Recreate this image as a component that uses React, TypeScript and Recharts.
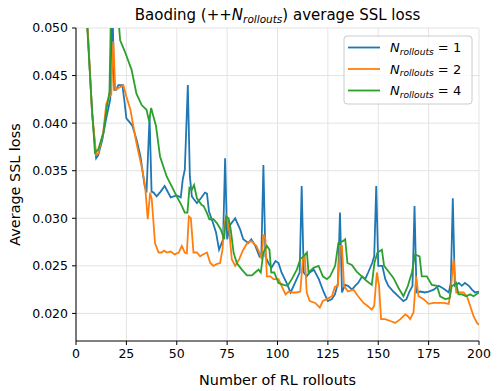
import React from "react";
import { LineChart, Line, XAxis, YAxis, CartesianGrid } from "recharts";

const TITLE = "Baoding (++";
const X_LABEL = "Number of RL rollouts";
const Y_LABEL = "Average SSL loss";
const SERIES_NAMES = ["1", "2", "4"];
const COLORS = ["#1f77b4", "#ff7f0e", "#2ca02c"];

const X_TICKS = [0, 25, 50, 75, 100, 125, 150, 175, 200];
const Y_TICKS = [0.02, 0.025, 0.03, 0.035, 0.04, 0.045, 0.05];

// N_rollouts = 1
const blueX = [4, 6, 8, 10, 11, 13, 15, 17, 18, 19, 20, 21, 23, 24, 25, 27, 28, 30, 32, 34, 35, 36.5, 37.5, 38.5, 40, 42, 44, 45, 47, 50, 52, 53, 54, 55.5, 56.5, 57.5, 58.5, 60, 62, 64, 65, 66, 68, 69.5, 71, 73, 74, 75, 76.5, 79, 81.5, 83, 85.5, 87, 89, 91, 92, 93, 94, 95.5, 97, 99, 100.5, 102, 104.5, 106.5, 108, 109.5, 111, 112, 113, 114.5, 116, 118, 120.5, 123, 125, 127, 128.5, 130, 131, 132, 133.5, 135, 137, 138.5, 140, 142, 143.5, 145, 147, 148, 149, 150, 152, 153.5, 155, 157.5, 160, 162.5, 164, 165.5, 167, 168, 169, 171, 173, 175, 177.5, 180, 182.5, 185, 186, 187, 188, 190, 191.5, 193, 195, 196.5, 198, 200];
const blueY = [0.056, 0.049, 0.041, 0.0363, 0.0366, 0.0382, 0.0405, 0.0425, 0.053, 0.0435, 0.0435, 0.044, 0.044, 0.0424, 0.0405, 0.04, 0.0397, 0.0383, 0.0365, 0.0335, 0.0327, 0.0407, 0.0328, 0.0327, 0.0323, 0.0328, 0.0334, 0.033, 0.0322, 0.0324, 0.0322, 0.0341, 0.0351, 0.044, 0.0344, 0.0323, 0.032, 0.0316, 0.0321, 0.0327, 0.0326, 0.0307, 0.0295, 0.0285, 0.0267, 0.0278, 0.0363, 0.0278, 0.0293, 0.03, 0.0288, 0.0278, 0.0274, 0.0278, 0.0271, 0.026, 0.0263, 0.0356, 0.026, 0.0253, 0.0248, 0.0255, 0.0253, 0.0243, 0.0232, 0.0222, 0.0229, 0.0236, 0.0243, 0.0334, 0.0243, 0.0239, 0.0243, 0.0246, 0.0236, 0.0222, 0.0213, 0.0215, 0.022, 0.0232, 0.0306, 0.0222, 0.023, 0.0229, 0.0225, 0.0229, 0.0232, 0.0239, 0.0236, 0.0243, 0.0253, 0.026, 0.0334, 0.025, 0.025, 0.0236, 0.0229, 0.0223, 0.0218, 0.0213, 0.0215, 0.0223, 0.0229, 0.0313, 0.0222, 0.0223, 0.0222, 0.0223, 0.0225, 0.0229, 0.0226, 0.0222, 0.0232, 0.0321, 0.0229, 0.0232, 0.0229, 0.0232, 0.0229, 0.0225, 0.0222, 0.0223];

// N_rollouts = 2
const orangeX = [4, 6, 8, 10, 11, 13.5, 15, 16.5, 17.5, 18.5, 19.5, 22, 23.5, 25, 27, 30, 32.5, 34.3, 35.6, 36.8, 37.6, 39.2, 41, 42.5, 43.7, 45, 47, 49, 51, 52.5, 54, 55, 56, 57, 58.3, 60, 61.6, 63, 65, 66.6, 68.2, 70, 71.5, 72.7, 73.5, 74.5, 75.7, 77.3, 79, 81, 83, 85, 87, 89.5, 91, 92.2, 93, 94, 94.7, 96.5, 98, 100.5, 102, 104, 105.5, 107.5, 109.5, 111.3, 112.6, 113.5, 114.5, 116, 118.7, 121, 122.5, 124.5, 127, 128.5, 130, 131, 132, 133, 135, 137.7, 140, 142.7, 144.6, 146.8, 148, 149.3, 150.4, 151.4, 153.4, 156, 158.4, 161, 163.4, 164.7, 165.8, 167.5, 168.8, 170, 172.5, 175, 177.5, 180, 182.5, 185, 186, 187.4, 188.7, 190.4, 192.3, 194, 195.6, 197.3, 199, 200];
const orangeY = [0.056, 0.049, 0.041, 0.0367, 0.0368, 0.039, 0.042, 0.0428, 0.043, 0.0486, 0.0435, 0.0438, 0.044, 0.0428, 0.0414, 0.0379, 0.0355, 0.0334, 0.0299, 0.0327, 0.032, 0.0274, 0.0264, 0.0264, 0.0266, 0.0264, 0.0265, 0.0262, 0.0264, 0.0271, 0.0264, 0.0263, 0.0302, 0.03, 0.0264, 0.0264, 0.026, 0.0262, 0.0264, 0.0253, 0.025, 0.0252, 0.0253, 0.0267, 0.0291, 0.0302, 0.0295, 0.0257, 0.025, 0.0257, 0.0267, 0.0274, 0.0276, 0.0271, 0.0264, 0.0257, 0.0283, 0.0278, 0.0239, 0.0239, 0.0236, 0.0236, 0.0229, 0.022, 0.0223, 0.0222, 0.0222, 0.0223, 0.0257, 0.0262, 0.0222, 0.0213, 0.0211, 0.0206, 0.0213, 0.0215, 0.0218, 0.0228, 0.0229, 0.0271, 0.0271, 0.0229, 0.0223, 0.0225, 0.0218, 0.0211, 0.0208, 0.0204, 0.0208, 0.0243, 0.0229, 0.0194, 0.0194, 0.0192, 0.019, 0.0194, 0.0199, 0.0197, 0.0194, 0.0201, 0.0239, 0.0218, 0.0215, 0.021, 0.0211, 0.0211, 0.0211, 0.021, 0.0225, 0.0257, 0.0222, 0.0222, 0.0222, 0.0218, 0.0208, 0.0197, 0.019, 0.0188];

// N_rollouts = 4
const greenX = [4, 5.6, 7.5, 9.4, 11, 13.6, 15.2, 16.6, 17.2, 18.5, 20, 21.9, 24.3, 27.6, 30, 32.6, 35, 36.3, 37.3, 39.7, 41.7, 45, 50, 52.5, 54, 55.3, 56.3, 57.5, 58.6, 60, 62.4, 63.3, 64.9, 66.2, 68.2, 69.9, 71.9, 73.5, 74.5, 75.7, 76.8, 78.2, 79.8, 82.3, 84.8, 87.3, 88.9, 90.6, 91.7, 93, 94.7, 96, 96.9, 98.4, 100.5, 103, 105, 107.1, 109.6, 111.3, 112.9, 114.6, 115.4, 117.9, 120.4, 122.5, 124.5, 126.1, 128.6, 130.2, 132.4, 133.6, 134.7, 136.9, 139.3, 141.8, 144.3, 146.8, 148.1, 149.6, 151.8, 152.9, 155.1, 157.6, 160, 162.5, 164.7, 166.7, 168.3, 170.5, 171.6, 174.1, 176.6, 179.1, 180.7, 183.2, 185.4, 186.5, 187.7, 188.7, 189.8, 191.5, 193.6, 195.6, 197.3, 200];
const greenY = [0.056, 0.05, 0.043, 0.0369, 0.0372, 0.039, 0.0415, 0.0433, 0.05, 0.055, 0.054, 0.0487, 0.0475, 0.0456, 0.0431, 0.0419, 0.0414, 0.0402, 0.0416, 0.0397, 0.0365, 0.0344, 0.0323, 0.0313, 0.0306, 0.0306, 0.0332, 0.033, 0.0335, 0.0321, 0.0314, 0.0313, 0.0306, 0.0299, 0.0299, 0.0295, 0.0288, 0.0278, 0.0302, 0.03, 0.0288, 0.0264, 0.0253, 0.0246, 0.024, 0.024, 0.0243, 0.0246, 0.0243, 0.0264, 0.0271, 0.0267, 0.0243, 0.0243, 0.0232, 0.023, 0.0229, 0.0236, 0.0246, 0.0257, 0.026, 0.0264, 0.0243, 0.0248, 0.025, 0.0239, 0.0236, 0.0239, 0.025, 0.0274, 0.0276, 0.0278, 0.0253, 0.0251, 0.0244, 0.0239, 0.0234, 0.023, 0.0253, 0.0264, 0.0267, 0.025, 0.0244, 0.0237, 0.0227, 0.0218, 0.0229, 0.0243, 0.0262, 0.026, 0.0239, 0.0239, 0.023, 0.0229, 0.0218, 0.0215, 0.0216, 0.0229, 0.023, 0.0232, 0.022, 0.022, 0.0218, 0.022, 0.0218, 0.0222];

const toPoints = (xs: number[], ys: number[]) => xs.map((x, i) => ({ x, y: ys[i] }));
const seriesData = [toPoints(blueX, blueY), toPoints(orangeX, orangeY), toPoints(greenX, greenY)];

const W = 498;
const H = 391;
const LEFT = 76;
const RIGHT = 479;
const TOP = 28;
const BOTTOM = 341;
const Y_DOMAIN = [0.0171, 0.05];

// italic N with a smaller lowered "rollouts", like matplotlib mathtext
const NRollouts = ({ size }: { size: number }) => (
  <>
    <tspan fontStyle="italic">N</tspan>
    <tspan fontStyle="italic" fontSize={size * 0.7} dy={size * 0.22}>rollouts</tspan>
  </>
);

export default function App() {
  const tickStyle = { fontSize: 12.5, fill: "#000" };
  const midY = (TOP + BOTTOM) / 2;
  return (
    <div style={{ position: "absolute", left: 0, top: 0, width: W, height: H, fontFamily: "DejaVu Sans", background: "#fff" }}>
      <LineChart width={W} height={H} margin={{ top: TOP, right: W - RIGHT, bottom: H - BOTTOM - 30, left: 0 }}>
        <CartesianGrid stroke="#e3e3e3" strokeWidth={1} verticalValues={X_TICKS} horizontalValues={Y_TICKS} />
        <XAxis
          dataKey="x"
          type="number"
          domain={[0, 200]}
          ticks={X_TICKS}
          height={30}
          tickSize={4}
          tickMargin={4}
          tick={tickStyle}
          stroke="#000"
          allowDataOverflow
        />
        <XAxis xAxisId="top" orientation="top" type="number" domain={[0, 200]} height={0} tick={false} tickLine={false} stroke="#000" />
        <YAxis
          type="number"
          domain={Y_DOMAIN}
          ticks={Y_TICKS}
          width={LEFT}
          tickSize={4}
          tickMargin={4}
          tick={tickStyle}
          tickFormatter={(v: number) => v.toFixed(3)}
          stroke="#000"
          allowDataOverflow
        />
        <YAxis yAxisId="right" orientation="right" type="number" domain={Y_DOMAIN} width={0} tick={false} tickLine={false} stroke="#000" />
        {seriesData.map((d, i) => (
          <Line
            key={SERIES_NAMES[i]}
            data={d}
            dataKey="y"
            type="linear"
            stroke={COLORS[i]}
            strokeWidth={1.8}
            dot={false}
            activeDot={false}
            isAnimationActive={false}
          />
        ))}
      </LineChart>
      <svg width={W} height={H} style={{ position: "absolute", left: 0, top: 0, pointerEvents: "none" }}>
        <text x={(LEFT + RIGHT) / 2} y={20} textAnchor="middle" fontSize={15} fill="#000">
          {TITLE}
          <NRollouts size={15} />
          <tspan dy={-15 * 0.22}>) average SSL loss</tspan>
        </text>
        <text x={(LEFT + RIGHT) / 2} y={385} textAnchor="middle" fontSize={14.4} fill="#000">
          {X_LABEL}
        </text>
        <text x={20} y={midY} textAnchor="middle" fontSize={14.4} fill="#000" transform={`rotate(-90 20 ${midY})`}>
          {Y_LABEL}
        </text>
        <rect x={344} y={36} width={128} height={68} rx={3} fill="#fff" fillOpacity={0.8} stroke="#cccccc" />
        {SERIES_NAMES.map((n, i) => (
          <g key={n}>
            <line x1={348} x2={380} y1={47.5 + i * 21.5} y2={47.5 + i * 21.5} stroke={COLORS[i]} strokeWidth={1.8} />
            <text x={390} y={52 + i * 21.5} fontSize={13} fill="#000">
              <NRollouts size={13} />
              <tspan dy={-13 * 0.22}>{" = " + n}</tspan>
            </text>
          </g>
        ))}
      </svg>
    </div>
  );
}
